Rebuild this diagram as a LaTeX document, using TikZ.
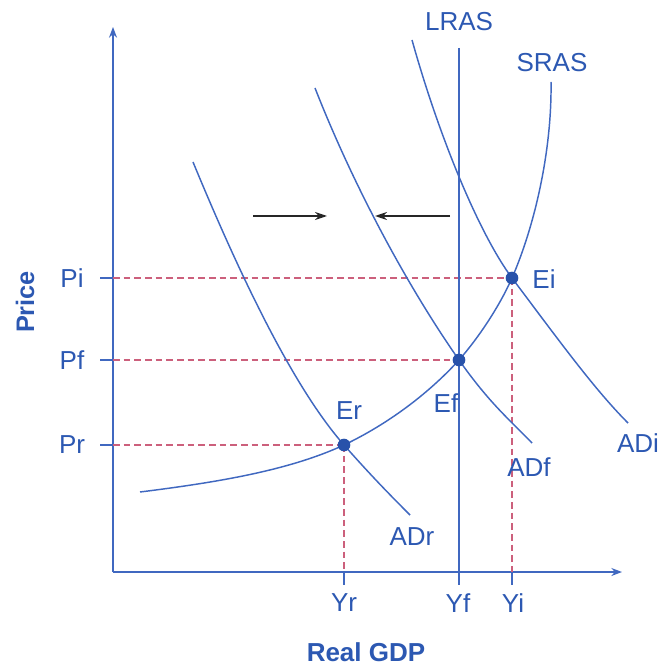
\documentclass[tikz,border=0pt]{standalone}
\usepackage{fontspec}
\setmainfont{Liberation Sans}
\usetikzlibrary{arrows.meta}
\definecolor{curveblue}{RGB}{64,104,192}
\definecolor{textblue}{RGB}{44,88,178}
\definecolor{guidered}{RGB}{204,96,124}
\definecolor{dotblue}{RGB}{40,82,170}

\begin{document}
\begin{tikzpicture}[>=Stealth,x=0.75pt,y=-0.75pt,
    curve/.style={curveblue,line width=1.1pt},
    guide/.style={guidered,line width=0.9pt,dash pattern=on 5pt off 3pt},
    lbl/.style={textblue,font=\fontsize{19.5}{22}\selectfont},
    eqdot/.style={circle,fill=dotblue,inner sep=0pt,minimum size=9.5pt}]
  \useasboundingbox (0,0) rectangle (662,666);
  % axes
  \coordinate (O) at (113,572);
  \coordinate (ytop) at (113,27);
  \coordinate (xend) at (622,572);
  \draw[curve,-{Stealth[length=8pt,width=6pt]}] (O) -- (ytop);
  \draw[curve,-{Stealth[length=8pt,width=6pt]}] (O) -- (xend);
  % equilibrium points
  \coordinate (Er) at (344,445);
  \coordinate (Ef) at (459,360);
  \coordinate (Ei) at (512,278);
  % ticks on the price axis
  \coordinate (Pi) at (113,278);
  \coordinate (Pf) at (113,360);
  \coordinate (Pr) at (113,445);
  \foreach \p in {Pi,Pf,Pr}
    \draw[curve] (\p) -- ++(-13,0);
  % ticks on the output axis
  \coordinate (Yr) at (344,572);
  \coordinate (Yf) at (459,572);
  \coordinate (Yi) at (512,572);
  \foreach \q in {Yr,Yf,Yi}
    \draw[curve] (\q) -- ++(0,13);
  % guide lines
  \draw[guide] (Pi) -- (Ei);
  \draw[guide] (Pf) -- (Ef);
  \draw[guide] (Pr) -- (Er);
  \draw[guide] (Er) -- (Yr);
  \draw[guide] (Ei) -- (Yi);
  % LRAS
  \coordinate (lrastop) at (459,48);
  \draw[curve] (lrastop) -- (Yf);
  % SRAS
  \draw[curve] (140,492) .. controls (220,482) and (290,470) .. (Er)
    .. controls (390,423) and (430,392) .. (Ef)
    .. controls (480,336) and (500,305) .. (Ei)
    .. controls (535,225) and (552,150) .. (551,82);
  % AD curves
  \draw[curve] (193,162) .. controls (250,300) and (300,395) .. (Er)
    .. controls (370,474.5) and (390,495) .. (410,515);
  \draw[curve] (315,88) .. controls (355,190) and (410,290) .. (Ef)
    .. controls (490,404) and (510,420) .. (532,443);
  \draw[curve] (412,40) .. controls (440,140) and (480,235) .. (Ei)
    .. controls (560,342) and (595,390) .. (628,423);
  % shifts
  \coordinate (sa) at (253,216);
  \coordinate (sb) at (327,216);
  \coordinate (sc) at (450,216);
  \coordinate (sd) at (375,216);
  \draw[black!85,line width=1.1pt,-{Stealth[length=9pt,width=6pt]}] (sa) -- (sb);
  \draw[black!85,line width=1.1pt,-{Stealth[length=9pt,width=6pt]}] (sc) -- (sd);
  % dots
  \node[eqdot] (dEr) at (Er) {};
  \node[eqdot] (dEf) at (Ef) {};
  \node[eqdot] (dEi) at (Ei) {};
  % labels
  \node[lbl] (lPi) at (72,278) {Pi};
  \node[lbl] (lPf) at (72,360) {Pf};
  \node[lbl] (lPr) at (72,445) {Pr};
  \node[lbl] (lYr) at (344,603) {Yr};
  \node[lbl] (lYf) at (458,603) {Yf};
  \node[lbl] (lYi) at (513,603) {Yi};
  \node[lbl] (lLRAS) at (459,22) {LRAS};
  \node[lbl] (lSRAS) at (552,63) {SRAS};
  \node[lbl] (lEr) at (349,411) {Er};
  \node[lbl] (lEf) at (446,403) {Ef};
  \node[lbl] (lEi) at (544,279) {Ei};
  \node[lbl] (lADr) at (412,537) {ADr};
  \node[lbl] (lADf) at (529,467) {ADf};
  \node[lbl] (lADi) at (638,443) {ADi};
  \node[lbl,font=\fontsize{19}{22}\selectfont\bfseries,rotate=90] (lPrice) at (25,302) {Price};
  \node[lbl,font=\fontsize{19.5}{22}\selectfont\bfseries,inner sep=0pt] (lGDP) at (366,652) {Real GDP};
\end{tikzpicture}
\end{document}
